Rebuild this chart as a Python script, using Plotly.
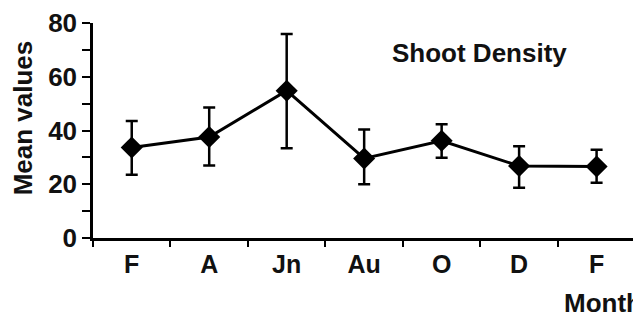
import plotly.graph_objects as go

months = ["F", "A", "Jn", "Au", "O", "D", "F"]
means = [33.7, 37.6, 54.8, 29.6, 36.2, 26.8, 26.6]
err_up = [9.8, 11.0, 21.1, 10.8, 6.1, 7.3, 6.2]
err_down = [10.2, 10.6, 21.4, 9.6, 6.3, 8.1, 6.0]

x_idx = list(range(len(months)))
FONT = "Liberation Sans, Arial, sans-serif"

fig = go.Figure()
fig.add_trace(go.Scatter(
    x=x_idx, y=means, mode="lines+markers",
    line=dict(color="black", width=3),
    marker=dict(symbol="diamond", size=17, color="black"),
    error_y=dict(type="data", symmetric=False, array=err_up, arrayminus=err_down,
                 color="black", thickness=2.5, width=6),
    cliponaxis=False, showlegend=False,
))

fig.update_layout(
    width=633, height=313,
    margin=dict(l=93, r=0, t=23, b=75),
    paper_bgcolor="white", plot_bgcolor="white",
    font=dict(family=FONT, size=25, color="#111"),
    xaxis=dict(
        range=[-0.5, 6.47], tickvals=x_idx, ticktext=["<b>%s</b>" % m for m in months],
        ticks="", showgrid=False, zeroline=False, automargin=False,
        showline=True, linecolor="black", linewidth=2.5,
        ticklabelstandoff=2,
        minor=dict(tick0=-0.5, dtick=1, ticks="outside", ticklen=6, tickwidth=2,
                   tickcolor="black", showgrid=False),
        tickfont=dict(size=25, family=FONT, color="#111"),
    ),
    yaxis=dict(
        range=[0, 80], tickvals=[0, 20, 40, 60, 80],
        ticktext=["<b>%d</b>" % v for v in [0, 20, 40, 60, 80]],
        ticks="outside", ticklen=8, tickwidth=2, tickcolor="black",
        showgrid=False, zeroline=False, automargin=False,
        showline=True, linecolor="black", linewidth=2.5,
        minor=dict(dtick=10, ticks="outside", ticklen=8, tickwidth=2,
                   tickcolor="black", showgrid=False),
        tickfont=dict(size=26, family=FONT, color="#111"),
    ),
    annotations=[
        dict(text="<b>Shoot Density</b>", xref="paper", yref="paper",
             x=0.55, y=0.86, xanchor="left", yanchor="middle", showarrow=False,
             font=dict(size=26, family=FONT, color="#111")),
        dict(text="<b>Mean values</b>", xref="paper", yref="paper",
             x=-0.129, y=0.558, xanchor="center", yanchor="middle", showarrow=False,
             textangle=-90, font=dict(size=26, family=FONT, color="#111")),
        dict(text="<b>Month</b>", xref="paper", yref="paper",
             x=0.8686, y=-0.302, xanchor="left", yanchor="middle", showarrow=False,
             font=dict(size=26, family=FONT, color="#111")),
    ],
)

fig.write_html("out.html", config={"displayModeBar": False},
               post_script="document.body.style.margin='0';document.body.style.overflow='hidden';")
